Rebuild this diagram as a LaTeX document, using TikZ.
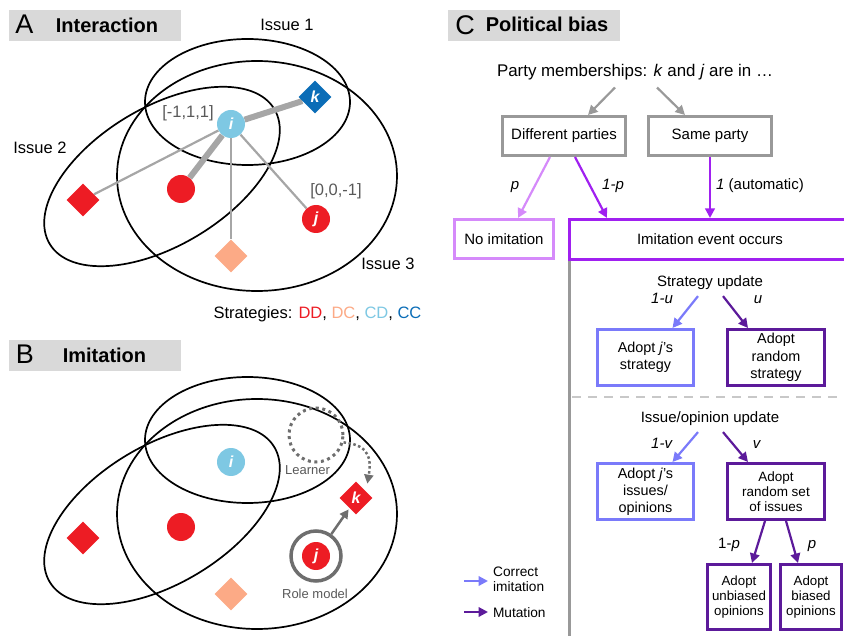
\documentclass[tikz,border=0pt]{standalone}
\usepackage{fontspec}
\setmainfont{Liberation Sans}
\usetikzlibrary{shapes.geometric,arrows.meta,backgrounds}
\pgfdeclarelayer{back}
\pgfdeclarelayer{lines}
\pgfsetlayers{back,lines,main}
\definecolor{cred}{RGB}{237,28,36}
\definecolor{csal}{RGB}{252,170,134}
\definecolor{clb}{RGB}{126,200,227}
\definecolor{cblue}{RGB}{11,109,183}
\definecolor{lgrey}{RGB}{166,166,166}
\definecolor{bgrey}{RGB}{153,153,153}
\definecolor{dgrey}{RGB}{110,110,110}
\definecolor{tgrey}{RGB}{89,89,89}
\definecolor{titlebg}{RGB}{217,217,217}
\definecolor{lpurp}{RGB}{213,138,250}
\definecolor{purp}{RGB}{160,32,240}
\definecolor{dpurp}{RGB}{92,26,154}
\definecolor{bpurp}{RGB}{122,122,250}
\definecolor{dashg}{RGB}{200,200,200}
\newcommand\myfA{\fontsize{16.5}{19}\selectfont}
\newcommand\myfN{\fontsize{16}{18}\selectfont\bfseries\itshape}
\newcommand\myfT{\fontsize{20}{22}\selectfont\bfseries}
\newcommand\myfL{\fontsize{27}{30}\selectfont}
\newcommand\myfS{\fontsize{13}{15}\selectfont}
\newcommand\myfC{\fontsize{15}{17}\selectfont}
\newcommand\myfP{\fontsize{16.9}{19}\selectfont}
\newcommand\myfD{\fontsize{14.4}{17.3}\selectfont}
\newcommand\myfE{\fontsize{13.5}{15}\selectfont}
\newcommand\myfG{\fontsize{13.3}{15.2}\selectfont}
\newcommand\myfLeg{\fontsize{13.7}{15}\selectfont}
\begin{document}
\begin{tikzpicture}[x=1pt,y=-1pt,
 ell/.style={draw=black, line width=1.7pt},
 circ/.style={circle, fill=#1, minimum size=28pt, inner sep=0pt, text=white, font=\myfN},
 diam/.style={diamond, fill=#1, minimum size=33pt, inner sep=0pt, text=white, font=\myfN},
 lbl/.style={inner sep=0pt, outer sep=0pt, anchor=base},
 tbar/.style={fill=titlebg, minimum width=172pt, minimum height=31pt, inner sep=0pt, anchor=north west},
 gbox/.style={draw=bgrey, line width=3pt, inner sep=1pt, align=center, font=\myfC},
 pbox/.style={draw=#1, line width=3pt, inner sep=1pt, align=center},
 arr/.style={draw=#1, line width=2.2pt, -{Triangle[length=9.5pt,width=9.5pt]}},
]
\useasboundingbox (0,0) rectangle (844,636);

% ---------------- Panel A ----------------
\node[tbar] (tA) at (9,10) {};
\node[lbl, font=\myfL] (lA) at (24.5,34) {A};
\node[lbl, font=\myfT] (hA) at (107,33) {Interaction};
\node[lbl, font=\myfA] (is1) at (287,31) {Issue 1};
\node[lbl, font=\myfA] (is2) at (40,154) {Issue 2};
\node[lbl, font=\myfA] (is3) at (388,270) {Issue 3};
\node[lbl, font=\myfA, text=tgrey] (v1) at (188,118) {[-1,1,1]};
\node[lbl, font=\myfA, text=tgrey] (v2) at (336,196) {[0,0,-1]};
\node[lbl, font=\myfA] (strat) at (317.5,319) {Strategies: \textcolor{cred}{DD}, \textcolor{csal}{DC}, \textcolor{clb}{CD}, \textcolor{cblue}{CC}};

\begin{pgfonlayer}{back}
\draw[ell] (247.5,102) ellipse [x radius=102.5, y radius=63];
\draw[ell] (257,176) ellipse [x radius=140, y radius=115];
\draw[ell, rotate around={31:(162,176.5)}] (162,176.5) ellipse [x radius=131, y radius=69];
\end{pgfonlayer}

\node[circ=clb] (ai) at (231,124) {i};
\node[diam=cblue] (ak) at (315,97) {k};
\node[circ=cred] (arc) at (181,189) {};
\node[diam=cred] (ard) at (83,200) {};
\node[diam=csal] (asd) at (231,256) {};
\node[circ=cred] (aj) at (316,219) {j};

\begin{pgfonlayer}{lines}
\draw[lgrey, line width=6pt] (ai) -- (ak);
\draw[lgrey, line width=6pt] (ai) -- (arc);
\draw[lgrey, line width=2.2pt] (ai) -- (ard);
\draw[lgrey, line width=2.2pt] (ai) -- (asd);
\draw[lgrey, line width=2.2pt] (ai) -- (aj);
\end{pgfonlayer}

% ---------------- Panel B ----------------
\node[tbar] (tB) at (9,340) {};
\node[lbl, font=\myfL] (lB) at (25,364) {B};
\node[lbl, font=\myfT] (hB) at (104.5,363) {Imitation};

\begin{pgfonlayer}{back}
\draw[ell] (247.5,440) ellipse [x radius=102.5, y radius=63];
\draw[ell] (257,514) ellipse [x radius=140, y radius=115];
\draw[ell, rotate around={31:(162,514.5)}] (162,514.5) ellipse [x radius=131, y radius=69];
\end{pgfonlayer}

\node[circ=clb] (bi) at (231,462) {i};
\node[circ=cred] (brc) at (181,527) {};
\node[diam=cred] (brd) at (83,538) {};
\node[diam=csal] (bsd) at (231,594) {};
\node[diam=cred] (bk) at (356,498) {k};
\node[draw=dgrey, circle, minimum size=54pt, line width=3pt, dash pattern=on 3pt off 3.6pt] (learner) at (316,435) {};
\node[draw=dgrey, circle, minimum size=50pt, line width=3.5pt] (ring) at (316,556) {};
\node[circ=cred] (bj) at (316,556) {j};
\node[lbl, font=\myfS, text=tgrey] (tl) at (307.5,475) {Learner};
\node[lbl, font=\myfS, text=tgrey] (trm) at (315,598) {Role model};
\draw[dgrey, line width=2.5pt, -{Triangle[length=9pt,width=9pt]}] (ring.55) -- ([xshift=1pt,yshift=-3pt]bk.south west);
\draw[dgrey, line width=2.5pt, dash pattern=on 2.5pt off 2.5pt, -{Triangle[length=9pt,width=9pt]}]
  (learner.-15) .. controls (372,445) and (371,462) .. ([xshift=3pt,yshift=6pt]bk.north east);

% ---------------- Panel C ----------------
\node[tbar] (tC) at (448,10) {};
\node[lbl, font=\myfL] (lC) at (465,35) {C};
\node[lbl, font=\myfT] (hC) at (547,32) {Political bias};
\node[lbl, font=\myfP] (party) at (635,77) {Party memberships: \textit{k} and \textit{j} are in …};

\node[gbox, minimum width=123pt, minimum height=39pt] (diff) at (564,136) {Different parties};
\node[gbox, minimum width=123pt, minimum height=39pt] (same) at (710,136) {Same party};
\node[pbox=lpurp, minimum width=99pt, minimum height=39pt, font=\myfC] (noimit) at (504,239) {No imitation};
\node[pbox=purp, minimum width=281pt, minimum height=40pt, font=\myfC] (imit) at (710,239.5) {Imitation event occurs};

\draw[arr=bgrey] ([xshift=-20pt,yshift=-7pt]party.south) -- ([xshift=24pt]diff.north);
\draw[arr=bgrey] ([xshift=22pt,yshift=-7pt]party.south) -- ([xshift=-25pt]same.north);
\draw[arr=lpurp] ([xshift=-14pt]diff.south) -- ([xshift=14pt]noimit.north);
\draw[arr=purp] ([xshift=11pt]diff.south) -- ([xshift=-103pt]imit.north);
\draw[arr=purp] (same.south) -- (same.south |- imit.north);
\node[lbl, font=\myfC] (lp1) at (515,190) {\textit{p}};
\node[lbl, font=\myfC] (lp2) at (613,190) {\textit{1-p}};
\node[lbl, font=\myfC] (lp3) at (760,190) {\textit{1} (automatic)};

\coordinate (vb) at (569.5,640);
\draw[bgrey, line width=3pt] (imit.south west -| vb) -- (vb);

\node[lbl, font=\myfC] (su) at (710,287) {Strategy update};
\node[pbox=bpurp, minimum width=96pt, minimum height=56pt, font=\myfD] (ajs) at (645.5,357.5) {Adopt \textit{j}’s\\strategy};
\node[pbox=dpurp, minimum width=97pt, minimum height=56pt, font=\myfD] (ars) at (776,357.5) {Adopt\\random\\strategy};
\draw[arr=bpurp] ([xshift=-12pt,yshift=-6pt]su.south) -- ([xshift=27pt]ajs.north);
\draw[arr=dpurp] ([xshift=13pt,yshift=-6pt]su.south) -- ([xshift=-28pt]ars.north);
\node[lbl, font=\myfC] (lu1) at (662,304) {\textit{1-u}};
\node[lbl, font=\myfC] (lu2) at (758,304) {\textit{u}};

\coordinate (da) at (572,397);
\coordinate (db) at (844,397);
\draw[dashg, line width=1.5pt, dash pattern=on 9pt off 7pt] (da) -- (db);

\node[lbl, font=\myfC] (iu) at (710,423) {Issue/opinion update};
\node[pbox=bpurp, minimum width=96pt, minimum height=56pt, font=\myfD] (aji) at (645.5,491.5) {Adopt \textit{j}’s\\[-0.5pt]issues/\\[-0.5pt]opinions};
\node[pbox=dpurp, minimum width=97pt, minimum height=56pt, font=\myfE] (arsi) at (776,491.5) {Adopt\\random set\\of issues};
\draw[arr=bpurp] ([xshift=-12pt,yshift=-6pt]iu.south) -- ([xshift=27pt]aji.north);
\draw[arr=dpurp] ([xshift=13pt,yshift=-6pt]iu.south) -- ([xshift=-28pt]arsi.north);
\node[lbl, font=\myfC] (lv1) at (662,448) {\textit{1-v}};
\node[lbl, font=\myfC] (lv2) at (757,448) {\textit{v}};

\node[pbox=dpurp, minimum width=63pt, minimum height=65pt, font=\myfG] (unb) at (739,597) {Adopt\\unbiased\\opinions};
\node[pbox=dpurp, minimum width=61pt, minimum height=65pt, font=\myfG] (bia) at (811,597) {Adopt\\biased\\opinions};
\draw[arr=dpurp] ([xshift=-11pt]arsi.south) -- ([xshift=13pt]unb.north);
\draw[arr=dpurp] ([xshift=10pt]arsi.south) -- ([xshift=-13pt]bia.north);
\node[lbl, font=\myfC] (lq1) at (729,548) {1-\textit{p}};
\node[lbl, font=\myfC] (lq2) at (812,548) {\textit{p}};

% legend
\coordinate (lg1a) at (464,581);
\coordinate (lg1b) at (488,581);
\coordinate (lg2a) at (464,612);
\coordinate (lg2b) at (488,612);
\draw[arr=bpurp] (lg1a) -- (lg1b);
\draw[arr=dpurp] (lg2a) -- (lg2b);
\node[inner sep=0pt, anchor=west, align=left, font=\myfLeg] (lgt1) at (493,579.5) {Correct\\imitation};
\node[lbl, anchor=base west, font=\myfLeg] (lgt2) at (493,617) {Mutation};
\end{tikzpicture}
\end{document}
